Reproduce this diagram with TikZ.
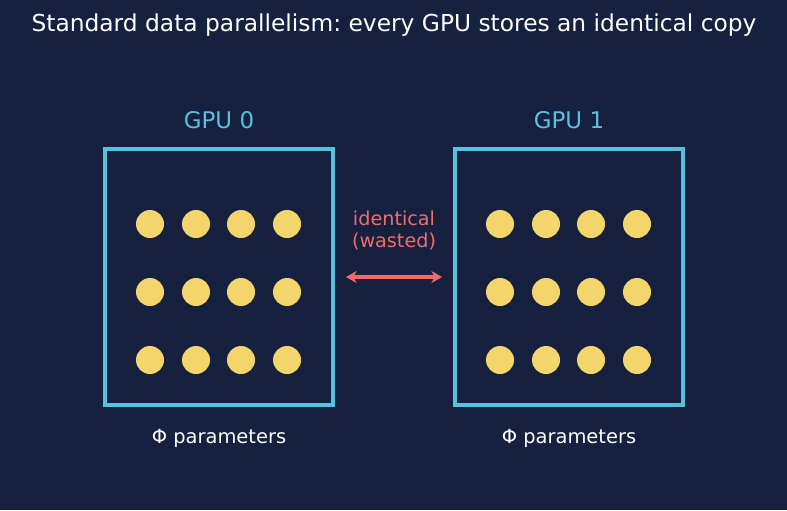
\documentclass[tikz,border=0pt]{standalone}
\usepackage{fontspec}
\setmainfont{DejaVu Sans}
\usetikzlibrary{arrows.meta,positioning}
\definecolor{bgnavy}{HTML}{16203F}
\definecolor{gpublue}{HTML}{5BC0DE}
\definecolor{paramyel}{HTML}{F4D56B}
\definecolor{wastered}{HTML}{F26B6B}
\frenchspacing

\tikzset{
  gpubox/.style={draw=gpublue, line width=2.4pt, minimum width=171pt, minimum height=192pt},
  gpulabel/.style={text=gpublue, font=\fontsize{17.2}{20}\selectfont},
  paramlabel/.style={text=white, font=\fontsize{14.6}{17}\selectfont},
  param/.style={fill=paramyel}
}

\begin{document}
\begin{tikzpicture}[x=0.75pt,y=-0.75pt]
            % Background and frame
            \fill[bgnavy] (0,0) rectangle (787,510);
            \useasboundingbox (0,0) rectangle (787,510);

            % Title
            \node[text=white, font=\fontsize{17.5}{20}\selectfont] (title) at (394,25) {Standard data parallelism: every GPU stores an identical copy};

            % Draw one box per GPU with its parameters
            \foreach \g/\cx in {0/219,1/569} {
                \node[gpubox] (gpu\g) at (\cx,277) {};
                \node[gpulabel] (name\g) at (\cx,120) {GPU \g};
                \node[paramlabel] (phi\g) at (\cx,438) {Φ parameters};
                \foreach \dx in {-69,-23,22,68}
                    \foreach \y in {224,292,360}
                        \fill[param] (\cx+\dx,\y) circle (10.5pt);
            }

            % Arrow between the copies
            \coordinate (copyL) at (346,277);
            \coordinate (copyR) at (442,277);
            \draw[wastered, line width=3.2pt, {Stealth[length=8pt,width=9pt]}-{Stealth[length=8pt,width=9pt]}] (copyL) -- (copyR);
            \node[text=wastered, align=center, font=\fontsize{14.4}{16.5}\selectfont] (waste) at (394,230) {identical\\(wasted)};

        \end{tikzpicture}
\end{document}
